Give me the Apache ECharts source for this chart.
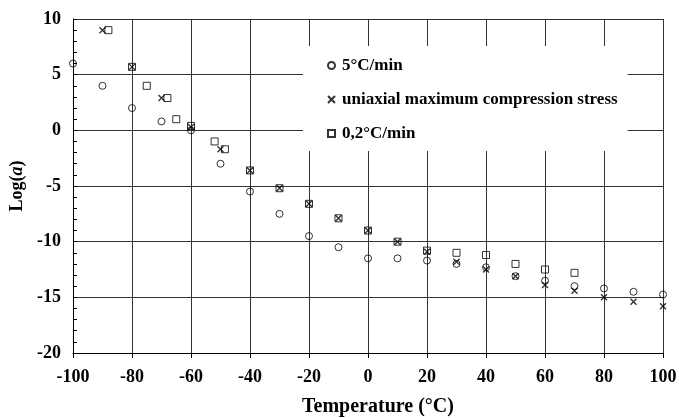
<!DOCTYPE html>
<html>
<head>
<meta charset="utf-8">
<script src="https://cdn.jsdelivr.net/npm/echarts@6/dist/echarts.min.js"></script>
<style>
html,body{margin:0;padding:0;background:#fff;}
#chart{width:679px;height:418px;}
</style>
</head>
<body>
<div id="chart"></div>
<script>
// 5°C/min  (circles)
var tempFast = [-100,-90,-80,-70,-60,-50,-40,-30,-20,-10,0,10,20,30,40,50,60,70,80,90,100];
var logFast  = [6,4,2,0.8,0,-3,-5.5,-7.5,-9.5,-10.5,-11.5,-11.5,-11.7,-12,-12.3,-13.1,-13.5,-14,-14.2,-14.5,-14.75];
// uniaxial maximum compression stress (crosses)
var tempStress = [-90,-80,-70,-60,-50,-40,-30,-20,-10,0,10,20,30,40,50,60,70,80,90,100];
var logStress  = [9,5.7,2.9,0.3,-1.7,-3.6,-5.2,-6.6,-7.9,-9,-10,-10.9,-11.8,-12.5,-13.1,-13.9,-14.4,-15,-15.4,-15.8];
// 0,2°C/min (squares)
var tempSlow = [-88,-80,-75,-68,-65,-60,-52,-48.5,-40,-30,-20,-10,0,10,20,30,40,50,60,70];
var logSlow  = [9,5.7,4,2.9,1,0.4,-1,-1.7,-3.6,-5.2,-6.6,-7.9,-9,-10,-10.8,-11,-11.2,-12,-12.5,-12.8];

var xTicks = {min:-100, max:100, step:20};
var yTicks = {min:-20, max:10, step:5};

function pairs(xs, ys){
	var out=[];
	for(var i=0;i<xs.length;i++){ out.push([xs[i], ys[i]]); }
	return out;
}

var font = 'Liberation Serif, Times New Roman, serif';
var myChart = echarts.init(document.getElementById('chart'));
var hollow = {color:'transparent', borderColor:'#000', borderWidth:1};

var option = {
	animation:false,
	backgroundColor:'#fff',
	grid:{left:73, right:16, top:19, bottom:65, containLabel:false, outerBoundsMode:'none'},
	legend:{
		orient:'vertical',
		left:303, top:46,
		padding:[11,10,9,24],
		itemGap:17,
		itemWidth:7, itemHeight:7,
		backgroundColor:'#fff',
		textStyle:{fontFamily:font, fontWeight:'bold', fontSize:17, color:'#000', padding:[0,0,0,2]},
		data:['5°C/min','uniaxial maximum compression stress','0,2°C/min']
	},
	xAxis:{
		type:'value', min:xTicks.min, max:xTicks.max, interval:xTicks.step,
		name:'Temperature (°C)', nameLocation:'middle', nameGap:44,
		nameTextStyle:{fontFamily:font, fontWeight:'bold', fontSize:20, color:'#000', padding:[0,0,0,20]},
		axisLine:{onZero:false, lineStyle:{color:'#000', width:1}},
		axisTick:{show:true, length:5, lineStyle:{color:'#000'}},
		axisLabel:{fontFamily:font, fontWeight:'bold', fontSize:18, color:'#000', margin:15},
		splitLine:{show:true, lineStyle:{color:'#333', width:1}}
	},
	yAxis:{
		type:'value', min:yTicks.min, max:yTicks.max, interval:yTicks.step,
		name:'{n|Log(}{i|a}{n|)}', nameLocation:'middle', nameGap:47,
		nameTextStyle:{
			rich:{
				n:{fontFamily:font, fontWeight:'bold', fontSize:18, color:'#000'},
				i:{fontFamily:font, fontWeight:'bold', fontStyle:'italic', fontSize:18, color:'#000'}
			}
		},
		axisLine:{show:true, onZero:false, lineStyle:{color:'#000', width:1}},
		axisTick:{show:true, inside:true, length:4, lineStyle:{color:'#000'}},
		minorTick:{show:true, splitNumber:5, length:4, lineStyle:{color:'#000'}},
		axisLabel:{fontFamily:font, fontWeight:'bold', fontSize:18, color:'#000', margin:12},
		splitLine:{show:true, lineStyle:{color:'#333', width:1}}
	},
	series:[
		{
			name:'5°C/min', type:'scatter', symbol:'circle', symbolSize:7,
			itemStyle:hollow, data:pairs(tempFast, logFast)
		},
		{
			name:'uniaxial maximum compression stress', type:'scatter',
			symbol:'path://M0,0L8,8M8,0L0,8', symbolSize:6,
			itemStyle:{color:'transparent', borderColor:'#000', borderWidth:1.4},
			data:pairs(tempStress, logStress)
		},
		{
			name:'0,2°C/min', type:'scatter', symbol:'rect', symbolSize:7,
			itemStyle:hollow, data:pairs(tempSlow, logSlow)
		}
	]
};
myChart.setOption(option, true);
</script>
</body>
</html>
